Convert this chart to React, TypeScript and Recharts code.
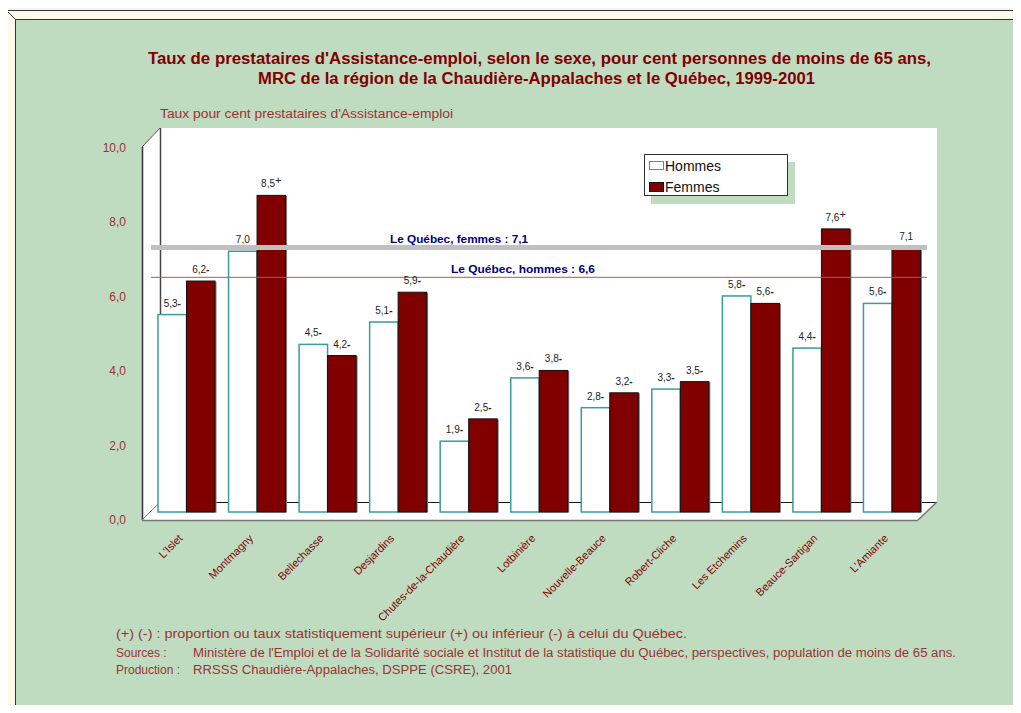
import React from 'react';
import { BarChart, Bar, XAxis, YAxis, ReferenceLine, LabelList } from 'recharts';

const categories = [
  "L'Islet",
  'Montmagny',
  'Bellechasse',
  'Desjardins',
  'Chutes-de-la-Chaudière',
  'Lotbinière',
  'Nouvelle-Beauce',
  'Robert-Cliche',
  'Les Etchemins',
  'Beauce-Sartigan',
  "L'Amiante",
];
const hommes = [5.3, 7.0, 4.5, 5.1, 1.9, 3.6, 2.8, 3.3, 5.8, 4.4, 5.6];
const femmes = [6.2, 8.5, 4.2, 5.9, 2.5, 3.8, 3.2, 3.5, 5.6, 7.6, 7.1];
// (+) / (-) markers next to each value
const hommesSig = ['-', '', '-', '-', '-', '-', '-', '-', '-', '-', '-'];
const femmesSig = ['-', '+', '-', '-', '-', '-', '-', '-', '-', '+', ''];
const yTicks = [0, 2, 4, 6, 8, 10];

const quebecFemmes = 7.1;
const quebecHommes = 6.6;
// the hommes line sits a bit lower than its value in the picture
const quebecHommesDrawnAt = 6.3;

const data = categories.map((name, i) => ({
  name,
  hommes: hommes[i],
  femmes: femmes[i],
}));

const FONT = '"Liberation Sans", Arial, Helvetica, sans-serif';
const BROWN = '#993333';
const fmt = (v: number) => v.toFixed(1).replace('.', ',');

const makeLabel = (sig: string[]) => (props: any) => {
  const { x, y, width, value, index } = props;
  const m = sig[index];
  return (
    <text x={x + width / 2} y={y - 8} textAnchor="middle" fontSize={10} fontFamily={FONT} fill="#222">
      {fmt(value)}
      {m === '+' && (
        <tspan fontSize={11} dy={-3}>+</tspan>
      )}
      {m === '-' && <tspan fontWeight="bold">-</tspan>}
    </text>
  );
};

const HommesBar = (props: any) => {
  const { x, y, width, height } = props;
  return <rect x={x} y={y} width={width} height={height} fill="#fff" stroke="#3A9C9C" strokeWidth={1.5} />;
};

const FemmesBar = (props: any) => {
  const { x, y, width, height } = props;
  return (
    <g>
      <rect x={x + 1.5} y={y + 0.5} width={width} height={height} fill="#7a7a7a" />
      <rect x={x} y={y} width={width} height={height} fill="#800000" stroke="#111" strokeWidth={1} />
    </g>
  );
};

const YTick = (props: any) => {
  const { x, y, payload } = props;
  return (
    <text x={x - 17} y={y + 12} textAnchor="end" fontSize={12} fontFamily={FONT} fill={BROWN}>
      {fmt(payload.value)}
    </text>
  );
};

const XTick = (props: any) => {
  const { x, y, payload } = props;
  return (
    <text
      transform={`translate(${x - 3},${y + 19}) rotate(-45)`}
      textAnchor="end"
      fontSize={11}
      fontFamily={FONT}
      fill="#800000"
    >
      {payload.value}
    </text>
  );
};

function Decor() {
  return (
    <svg width={1021} height={713} style={{ position: 'absolute', left: 0, top: 0 }}>
      <rect x={0} y={0} width={1021} height={713} fill="#f1f3f5" />
      <rect x={6} y={10} width={1015} height={703} fill="#fff8ec" />
      <line x1={6} y1={10.5} x2={1021} y2={10.5} stroke="#333" />
      <line x1={6.5} y1={10} x2={6.5} y2={713} stroke="#555" />
      <rect x={15} y={19} width={1006} height={692} fill="#c0dcc0" />
      <line x1={15} y1={19.5} x2={1021} y2={19.5} stroke="#333" />
      <line x1={15.5} y1={19} x2={15.5} y2={712} stroke="#333" />
      <line x1={6} y1={10} x2={15} y2={19} stroke="#333" />
      <line x1={15} y1={711.5} x2={1021} y2={711.5} stroke="#111" strokeWidth={2} />

      {/* 3D walls */}
      <rect x={160} y={128} width={777} height={374} fill="#fff" />
      <polygon points="142,147 160,128 160,502 142,520" fill="#fff" />
      <polygon points="142,520 160,502 937,502 918,520" fill="#fff" />
      <line x1={142.5} y1={147} x2={142.5} y2={520} stroke="#333" strokeWidth={1.5} />
      <line x1={142} y1={147} x2={160} y2={128} stroke="#555" />
      <line x1={160.5} y1={128} x2={160.5} y2={502} stroke="#444" strokeWidth={1.5} />
      <line x1={160} y1={502.5} x2={937} y2={502.5} stroke="#111" />
      <line x1={142} y1={520} x2={160} y2={502} stroke="#777" />
      <line x1={142} y1={520.5} x2={918} y2={520.5} stroke="#777" strokeWidth={1.5} />
      <line x1={918} y1={520} x2={937} y2={502} stroke="#777" strokeWidth={1.5} />

      <g fontFamily={FONT}>
        <text x={148} y={64} fontSize={16} fontWeight="bold" fill="#800000" textLength={783} lengthAdjust="spacingAndGlyphs">
          Taux de prestataires d'Assistance-emploi, selon le sexe, pour cent personnes de moins de 65 ans,
        </text>
        <text x={258} y={84} fontSize={16} fontWeight="bold" fill="#800000" textLength={557} lengthAdjust="spacingAndGlyphs">
          MRC de la région de la Chaudière-Appalaches et le Québec, 1999-2001
        </text>
        <text x={160} y={118} fontSize={12} fill={BROWN} textLength={293} lengthAdjust="spacingAndGlyphs">
          Taux pour cent prestataires d'Assistance-emploi
        </text>
        <text x={116} y={638} fontSize={13} fill={BROWN} textLength={571} lengthAdjust="spacingAndGlyphs">
          (+) (-) : proportion ou taux statistiquement supérieur (+) ou inférieur (-) à celui du Québec.
        </text>
        <text x={116} y={657} fontSize={12} fill={BROWN}>Sources :</text>
        <text x={193} y={657} fontSize={12} fill={BROWN} textLength={763} lengthAdjust="spacingAndGlyphs">
          Ministère de l'Emploi et de la Solidarité sociale et Institut de la statistique du Québec, perspectives, population de moins de  65 ans.
        </text>
        <text x={116} y={674} fontSize={12} fill={BROWN}>Production :</text>
        <text x={193} y={674} fontSize={12} fill={BROWN} textLength={319} lengthAdjust="spacingAndGlyphs">
          RRSSS Chaudière-Appalaches, DSPPE (CSRE), 2001
        </text>
      </g>
    </svg>
  );
}

function ChartLegend() {
  const item = { display: 'flex', alignItems: 'center', height: 21 } as const;
  return (
    <div
      style={{
        position: 'absolute',
        left: 644,
        top: 154,
        width: 144,
        height: 42,
        background: '#fff',
        border: '1px solid #333',
        boxShadow: '7px 8px 0 #c0dcc0',
        fontFamily: FONT,
        fontSize: 14,
        color: '#111',
        paddingLeft: 4,
        boxSizing: 'border-box',
      }}
    >
      <div style={item}>
        <span style={{ width: 13, height: 7, border: '1px solid #3A9C9C', background: '#fff', marginRight: 1 }} />
        Hommes
      </div>
      <div style={item}>
        <span style={{ width: 13, height: 8, border: '1px solid #111', background: '#800000', marginRight: 1 }} />
        Femmes
      </div>
    </div>
  );
}

export default function App() {
  return (
    <div style={{ position: 'relative', width: 1021, height: 713, overflow: 'hidden', margin: -8 }}>
      <Decor />
      <div style={{ position: 'absolute', left: 0, top: 0 }}>
        <BarChart
          width={1021}
          height={713}
          data={data}
          margin={{ top: 139.5, right: 94, bottom: 141, left: 111 }}
          barGap={0}
        >
          <XAxis dataKey="name" height={60} axisLine={false} tickLine={false} interval={0} tick={<XTick />} />
          <YAxis
            width={40}
            domain={[0, 10]}
            ticks={yTicks}
            axisLine={false}
            tickLine={false}
            tick={<YTick />}
          />
          <ReferenceLine
            y={quebecHommesDrawnAt}
            stroke="#c05050"
            strokeWidth={1}
            label={(p: any) => (
              <text x={451} y={p.viewBox.y - 4} fontSize={11.5} fontWeight="bold" fontFamily={FONT} fill="#000080" textLength={144} lengthAdjust="spacingAndGlyphs">
                {`Le Québec, hommes : ${fmt(quebecHommes)}`}
              </text>
            )}
          />
          <Bar dataKey="hommes" barSize={28.5} shape={<HommesBar />} isAnimationActive={false}>
            <LabelList dataKey="hommes" content={makeLabel(hommesSig)} />
          </Bar>
          <Bar dataKey="femmes" barSize={28.5} shape={<FemmesBar />} isAnimationActive={false}>
            <LabelList dataKey="femmes" content={makeLabel(femmesSig)} />
          </Bar>
          <ReferenceLine
            y={quebecFemmes}
            stroke="#c0c0c0"
            strokeWidth={5}
            label={(p: any) => (
              <text x={390} y={p.viewBox.y - 5} fontSize={11.5} fontWeight="bold" fontFamily={FONT} fill="#000080" textLength={138} lengthAdjust="spacingAndGlyphs">
                {`Le Québec, femmes : ${fmt(quebecFemmes)}`}
              </text>
            )}
          />
        </BarChart>
      </div>
      <ChartLegend />
    </div>
  );
}
